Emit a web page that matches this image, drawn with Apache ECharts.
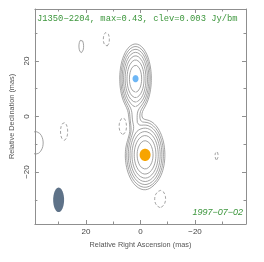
<!DOCTYPE html>
<html><head><meta charset="utf-8">
<script src="https://cdn.jsdelivr.net/npm/echarts@6/dist/echarts.min.js"></script>
<style>html,body{margin:0;padding:0;background:#fff}#c{width:264px;height:262px}</style>
</head><body><div id="c"></div>
<script>
// ---- text ----
const titleText = 'J1350\u22122204, max=0.43, clev=0.003 Jy/bm';
const dateText = '1997\u221207\u221202';
const xAxisName = 'Relative Right Ascension (mas)';
const yAxisName = 'Relative Declination (mas)';
// ---- axes ----
const axisMin = -38.7, axisMax = 38.7;
const majorTicks = [-20, 0, 20];
const minorTicks = [-30, -10, 10, 30];
// ---- contour levels (Jy/beam) ----
const clev = 0.003;
const levelFactors = [1, 2, 4, 8, 16, 32, 64, 128];
const negativeFactors = [-1];
// ---- brightness model: Gaussian components (mas, Jy/beam) ----
const compX    = [-1.7, 1.8, 2.2,  12.5, 21.7, 28.0, 38.4, 6.2, -27.9, -7.2];
const compY    = [-13.8, 13.6, -0.5, 27.8, 25.3, -5.4, -9.5, -3.5, -14.0, -29.6];
const compPeak = [0.43, 0.40, 0.014, -0.005, 0.005, -0.005, 0.005, -0.005, -0.005, -0.005];
const compSigX = [2.3, 1.85, 1.3,  1.1, 0.85, 1.3, 2.7, 1.6, 0.55, 2.0];
const compSigY = [4.0, 4.0, 3.5,  2.5, 2.3, 3.2, 4.0, 3.1, 1.6, 3.1];
// ---- model-fit component markers (mas) ----
const markX = [1.8, -1.7];
const markY = [13.6, -13.8];
const markW = [2.2, 4.0];
const markH = [2.6, 4.4];
const markColor = ['#6db6f5', '#f7a400'];
// ---- restoring beam (mas) ----
const beamX = [30.0], beamY = [-30.0], beamW = [4.0], beamH = [8.8];
const beamColor = '#5e7288';

// field grid
function buildField() {
  const h = 0.2, x0 = -39.4, n = Math.round(78.8 / h) + 1;
  const xs = new Float64Array(n);
  for (let i = 0; i < n; i++) xs[i] = x0 + i * h;
  const f = new Float64Array(n * n);
  for (let j = 0; j < n; j++) {
    const y = xs[j];
    for (let i = 0; i < n; i++) {
      const x = xs[i];
      let v = 0;
      for (let k = 0; k < compX.length; k++) {
        const dx = (x - compX[k]) / compSigX[k], dy = (y - compY[k]) / compSigY[k];
        const q = dx * dx + dy * dy;
        if (q < 60) v += compPeak[k] * Math.exp(-0.5 * q);
      }
      f[j * n + i] = v;
    }
  }
  return { xs, n, f, h };
}
function contour(field, L) {
  const { xs, n, f, h } = field;
  const segs = [], pts = {}, map = {};
  function add(e1, e2) {
    const id = segs.length;
    segs.push([e1[0], e2[0]]);
    pts[e1[0]] = [e1[1], e1[2]]; pts[e2[0]] = [e2[1], e2[2]];
    (map[e1[0]] = map[e1[0]] || []).push(id);
    (map[e2[0]] = map[e2[0]] || []).push(id);
  }
  for (let j = 0; j < n - 1; j++) {
    for (let i = 0; i < n - 1; i++) {
      const a = f[j * n + i] - L, b = f[j * n + i + 1] - L, c = f[(j + 1) * n + i + 1] - L, d = f[(j + 1) * n + i] - L;
      const sa = a >= 0, sb = b >= 0, sc = c >= 0, sd = d >= 0;
      if (sa === sb && sb === sc && sc === sd) continue;
      const e = [];
      if (sa !== sb) e.push(['H' + i + '_' + j, xs[i] + a / (a - b) * h, xs[j]]);
      if (sb !== sc) e.push(['V' + (i + 1) + '_' + j, xs[i + 1], xs[j] + b / (b - c) * h]);
      if (sd !== sc) e.push(['H' + i + '_' + (j + 1), xs[i] + d / (d - c) * h, xs[j + 1]]);
      if (sa !== sd) e.push(['V' + i + '_' + j, xs[i], xs[j] + a / (a - d) * h]);
      if (e.length === 2) add(e[0], e[1]);
      else if (e.length === 4) {
        const cen = (a + b + c + d) / 4 >= 0;
        if (cen === sa) { add(e[0], e[1]); add(e[2], e[3]); }
        else { add(e[0], e[3]); add(e[1], e[2]); }
      }
    }
  }
  const used = new Uint8Array(segs.length), paths = [];
  function walk(start, out) {
    let cur = start;
    while (true) {
      const lst = map[cur]; let nx = -1;
      for (const t of lst) if (!used[t]) { nx = t; break; }
      if (nx < 0) break;
      used[nx] = 1;
      const other = segs[nx][0] === cur ? segs[nx][1] : segs[nx][0];
      out.push(other); cur = other;
    }
  }
  for (let s = 0; s < segs.length; s++) {
    if (used[s]) continue;
    used[s] = 1;
    const fwd = [segs[s][0], segs[s][1]];
    walk(segs[s][1], fwd);
    const back = [];
    walk(segs[s][0], back);
    const keys = back.reverse().concat(fwd);
    paths.push(keys.map(k => pts[k]));
  }
  return paths;
}

const field = buildField();
const series = [];
levelFactors.concat(negativeFactors).forEach(fac => {
  const L = clev * fac;
  contour(field, L).forEach(p => {
    series.push({
      type: 'line', data: p, showSymbol: false, silent: true, animation: false, clip: true,
      lineStyle: { color: '#8c8c8c', width: 0.8, type: fac < 0 ? [3, 2] : 'solid' }, z: 2
    });
  });
});
function ellipseSeries(xArr, yArr, wArr, hArr, colors, z) {
  return {
    type: 'custom', silent: true, animation: false, z: z,
    data: xArr.map((x, i) => [x, yArr[i], wArr[i], hArr[i], i]),
    renderItem: function (params, api) {
      const c = api.coord([api.value(0), api.value(1)]);
      const s = api.size([api.value(2), api.value(3)]);
      const rx = s[0] / 2, ry = s[1] / 2, pts = [];
      for (let k = 0; k < 48; k++) {
        const t = k / 48 * Math.PI * 2;
        pts.push([c[0] + rx * Math.cos(t), c[1] + ry * Math.sin(t)]);
      }
      return { type: 'polygon', shape: { points: pts }, style: { fill: colors[api.value(4)] || colors[0] } };
    }
  };
}
series.push(ellipseSeries(markX, markY, markW, markH, markColor, 5));
series.push(ellipseSeries(beamX, beamY, beamW, beamH, [beamColor], 5));

const fmt = v => v < 0 ? '\u2212' + Math.abs(v) : String(v);
const axisColor = '#8f8f8f';
const labelStyle = { fontSize: 8, color: '#444', fontFamily: 'Liberation Sans' };
function mkAxis(dim, pos, ticks, len, labels, line) {
  const ax = {
    type: 'value', min: axisMin, max: axisMax, position: pos,
    axisLine: { show: line, onZero: false, lineStyle: { color: axisColor, width: 1 } },
    axisTick: { show: true, inside: true, length: len, customValues: ticks, lineStyle: { color: axisColor, width: 1 } },
    axisLabel: labels ? Object.assign({ customValues: ticks, formatter: fmt, margin: 4 }, labelStyle) : { show: false },
    splitLine: { show: false }
  };
  if (dim === 'x') ax.inverse = true;
  if (labels && dim === 'y') { ax.axisLabel.rotate = 90; ax.axisLabel.margin = 4; }
  if (labels) {
    ax.name = dim === 'x' ? xAxisName : yAxisName;
    ax.nameLocation = 'middle';
    ax.nameGap = dim === 'x' ? 17 : 14;
    ax.nameTextStyle = { fontSize: 7.3, color: '#555', fontFamily: 'Liberation Sans' };
  }
  return ax;
}
const option = {
  animation: false,
  backgroundColor: '#fff',
  grid: { left: 31, right: 18, top: 9, bottom: 38 },
  xAxis: [
    mkAxis('x', 'bottom', majorTicks, 4, true, true),
    mkAxis('x', 'bottom', minorTicks, 2.5, false, false),
    mkAxis('x', 'top', majorTicks, 4, false, true),
    mkAxis('x', 'top', minorTicks, 2.5, false, false)
  ],
  yAxis: [
    mkAxis('y', 'left', majorTicks, 4, true, true),
    mkAxis('y', 'left', minorTicks, 2.5, false, false),
    mkAxis('y', 'right', majorTicks, 4, false, true),
    mkAxis('y', 'right', minorTicks, 2.5, false, false)
  ],
  series: series,
  graphic: [
    { type: 'text', left: 37, top: 14, z: 10, style: { text: titleText, font: '8.8px "Liberation Mono"', fill: '#3c963c' } },
    { type: 'text', right: 21, top: 208, z: 10, style: { text: dateText, font: 'italic 9px "Liberation Sans"', fill: '#3c963c' } }
  ]
};
const chart = echarts.init(document.getElementById('c'), null, { renderer: 'canvas' });
chart.setOption(option);
</script></body></html>
